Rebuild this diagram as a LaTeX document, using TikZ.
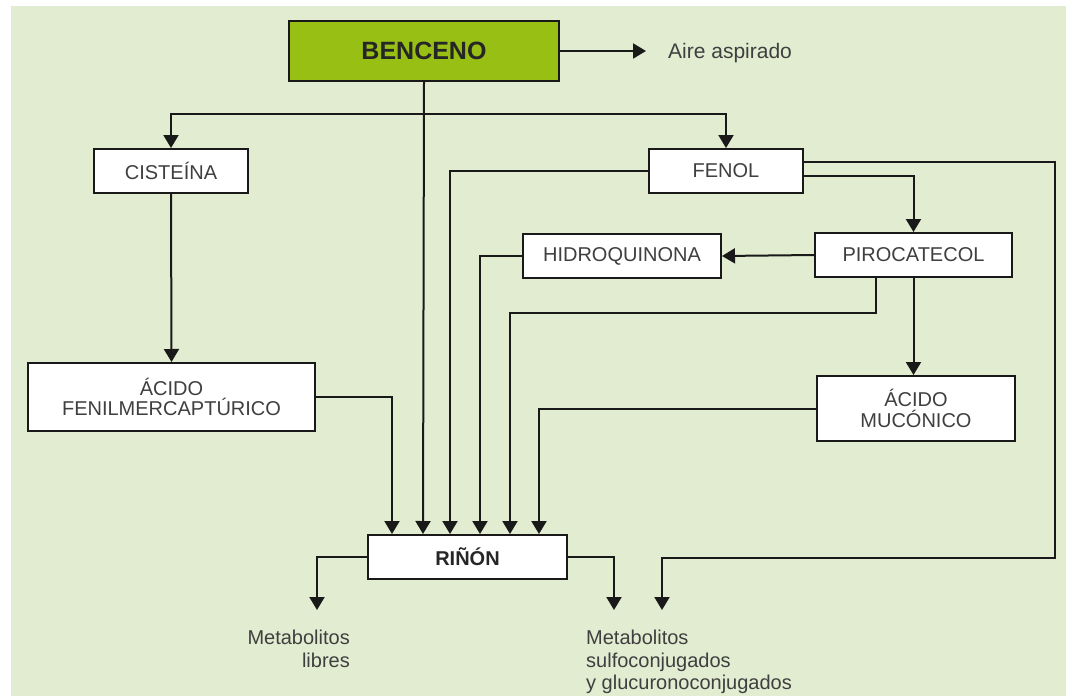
\documentclass[tikz,border=0pt]{standalone}
\usepackage{fontspec}
\setmainfont{Liberation Sans}
\usetikzlibrary{arrows.meta,positioning,calc}
\definecolor{fondo}{HTML}{E2ECD1}
\definecolor{verde}{HTML}{98BF14}
\definecolor{texto}{HTML}{3F3F3F}

\begin{document}
\begin{tikzpicture}[x=1pt, y=-1pt,
  caja/.style={draw=black!90, line width=2pt, fill=white, inner sep=0pt, align=center, text=texto, font=\fontsize{20}{20.5}\selectfont},
  flecha/.style={line width=2pt, draw=black!90, -{Triangle[length=13pt,width=15pt]}},
  etiqueta/.style={inner sep=0pt, text=texto, font=\fontsize{20}{22.5}\selectfont}]
  \useasboundingbox (0,0) rectangle (1066,696);
  \fill[fondo] (11,6) rectangle (1066,696);% fondo verde

  % cajas
  \node[caja, fill=verde, minimum width=270pt, minimum height=60pt, text=black!85, font=\bfseries\fontsize{25}{25}\selectfont] (benceno) at (424,51) {BENCENO};
  \node[caja, minimum width=154pt, minimum height=44pt] (cisteina) at (171,171) {CISTEÍNA};
  \node[caja, minimum width=154pt, minimum height=44pt] (fenol) at (726,171) {FENOL};
  \node[caja, minimum width=198pt, minimum height=44pt] (hidro) at (622,256) {HIDROQUINONA};
  \node[caja, minimum width=197pt, minimum height=44pt] (piro) at (913.5,255) {PIROCATECOL};
  \node[caja, minimum width=287pt, minimum height=68pt] (fenil) at (171.5,397) {ÁCIDO\\FENILMERCAPTÚRICO};
  \node[caja, minimum width=198pt, minimum height=65pt] (muco) at (916,408.5) {ÁCIDO\\MUCÓNICO};
  \node[caja, minimum width=199pt, minimum height=44pt, text=black!85, font=\bfseries\fontsize{20}{20}\selectfont] (rinon) at (467.5,557) {RIÑÓN};

  % textos sueltos
  \node[etiqueta, anchor=base west, font=\fontsize{21}{22.5}\selectfont] (aire) at (668,58) {Aire aspirado};
  \node[etiqueta, anchor=north east, align=right] (libres) at (350,630) {Metabolitos\\libres};
  \node[etiqueta, anchor=north west, align=left] (sulfo) at (586,630) {Metabolitos\\sulfoconjugados\\y glucuronoconjugados};

  % puntos de llegada
  \foreach \n/\dx in {1/25,2/56,3/83,4/113,5/143,6/172}
    \coordinate (in\n) at ([xshift=\dx pt]rinon.north west);
  \coordinate (rama) at (424,114);
  \coordinate (finL) at (317,610);
  \coordinate (finR) at (614,610);
  \coordinate (finD) at (662,610);
  \coordinate (derecha) at (1055,558);

  % conectores
  \draw[flecha, shorten >=22pt] (benceno.east) -- (benceno.east -| aire.west);
  \draw[flecha] (rama) -| (cisteina.north);
  \draw[flecha] (rama) -| (fenol.north);
  \draw[flecha] (benceno.south) -- (in2);
  \draw[flecha] (cisteina.south) -- (fenil.north);
  \draw[flecha] (fenil.east) -| (in1);
  \draw[flecha] (fenol.west) -| (in3);
  \draw[flecha] (hidro.west) -| (in4);
  \draw[flecha] ([xshift=-37.5pt]piro.south) -- ++(0,35) -| (in5);
  \draw[flecha] (muco.west) -| (in6);
  \draw[flecha] (piro.west) -- (hidro.east);
  \draw[flecha] ([yshift=-5pt]fenol.east) -| (piro.north);
  \draw[flecha] (piro.south) -- (piro.south |- muco.north);
  \draw[flecha] ([yshift=9pt]fenol.east) -| (derecha) -| (finD);
  \draw[flecha] (rinon.west) -| (finL);
  \draw[flecha] (rinon.east) -| (finR);
\end{tikzpicture}
\end{document}
